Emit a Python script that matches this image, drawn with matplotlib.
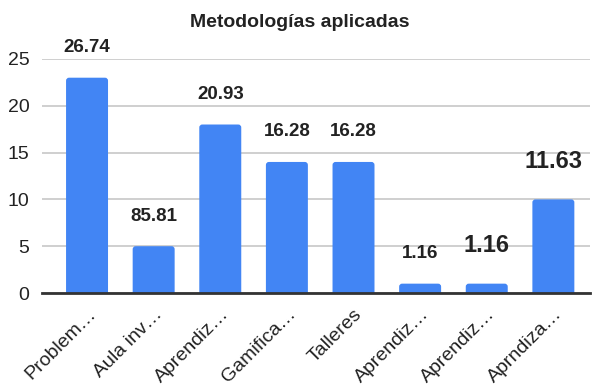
import matplotlib
matplotlib.use("Agg")
import matplotlib.pyplot as plt
from matplotlib.patches import FancyBboxPatch

# Metodologías aplicadas: number of answers per method, with the % shown on top
categorias = ["Problem…", "Aula inv…", "Aprendiz…", "Gamifica…",
              "Talleres", "Aprendiz…", "Aprendiz…", "Aprndiza…"]
conteos = [23, 5, 18, 14, 14, 1, 1, 10]
etiquetas = ["26.74", "85.81", "20.93", "16.28", "16.28", "1.16", "1.16", "11.63"]
tam_etiqueta = [13.5, 13.5, 13.5, 13.5, 13.5, 13.5, 17, 17]

plt.rcParams["font.family"] = ["Liberation Sans", "DejaVu Sans"]

fig = plt.figure(figsize=(5.95, 3.88), dpi=100)
ax = fig.add_axes([0.0706, 0.2448, 0.921, 0.6032])

ax.set_xlim(-0.676, 7.55)
ax.set_ylim(0, 25)

# bars with slightly rounded tops (bottom corners hide under the axis)
x = list(range(len(categorias)))
ancho = 0.63
aspecto = (25 / 234) / (8.226 / 548)
for i, v in zip(x, conteos):
    p = FancyBboxPatch((i - ancho / 2, -1), ancho, v + 1,
                       boxstyle="round,pad=0,rounding_size=0.045",
                       mutation_aspect=aspecto, facecolor="#4285F4",
                       edgecolor="none", zorder=3)
    ax.add_patch(p)

for i, (v, txt, fs) in enumerate(zip(conteos, etiquetas, tam_etiqueta)):
    off = 30 if fs < 15 else 38
    ax.annotate(txt, (i, v), xytext=(0, off), textcoords="offset pixels",
                ha="center", va="center", fontsize=fs, fontweight="bold",
                color="#222222", annotation_clip=False)

ax.set_yticks([0, 5, 10, 15, 20, 25])
ax.tick_params(axis="y", length=0, labelsize=14, labelcolor="#222222", pad=9)
ax.tick_params(axis="x", length=0, pad=9)
ax.set_xticks(x)
ax.set_xticklabels(categorias, rotation=45, ha="right", va="top",
                   rotation_mode="anchor", fontsize=14, color="#222222")

ax.grid(axis="y", color="#cccccc", linewidth=1.3, zorder=0)
for s in ["top", "right", "left"]:
    ax.spines[s].set_visible(False)
ax.spines["bottom"].set_color("#333333")
ax.spines["bottom"].set_linewidth(2)
ax.spines["bottom"].set_zorder(4)

fig.text(0.503, 0.943, "Metodologías aplicadas", ha="center", va="center",
         fontsize=14, fontweight="bold", color="#222222")

fig.savefig("out.png", dpi=100)
